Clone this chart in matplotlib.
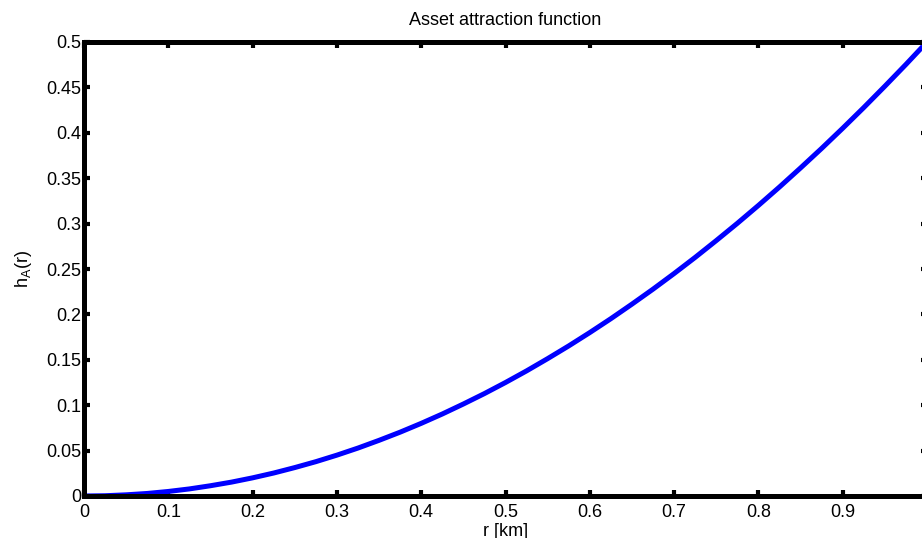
import matplotlib
matplotlib.use("Agg")
import matplotlib.pyplot as plt
import numpy as np

plt.rcParams['font.family'] = ['Liberation Sans', 'DejaVu Sans']

# values
r_km = [0, 0.025, 0.05, 0.075, 0.1, 0.125, 0.15, 0.175, 0.2, 0.225, 0.25,
        0.275, 0.3, 0.325, 0.35, 0.375, 0.4, 0.425, 0.45, 0.475, 0.5,
        0.525, 0.55, 0.575, 0.6, 0.625, 0.65, 0.675, 0.7, 0.725, 0.75,
        0.775, 0.8, 0.825, 0.85, 0.875, 0.9, 0.925, 0.95, 0.975, 1.0]
h_A = [0, 0.0003, 0.0013, 0.0028, 0.005, 0.0078, 0.0113, 0.0153, 0.02, 0.0253, 0.0313,
       0.0378, 0.045, 0.0528, 0.0613, 0.0703, 0.08, 0.0903, 0.1013, 0.1128, 0.125,
       0.1378, 0.1513, 0.1653, 0.18, 0.1953, 0.2113, 0.2278, 0.245, 0.2628, 0.2813,
       0.3003, 0.32, 0.3403, 0.3613, 0.3828, 0.405, 0.4278, 0.4513, 0.4753, 0.5]

# the "1" tick falls outside the cropped picture
x_ticks = [0, 0.1, 0.2, 0.3, 0.4, 0.5, 0.6, 0.7, 0.8, 0.9]
x_labels = ['0', '0.1', '0.2', '0.3', '0.4', '0.5', '0.6', '0.7', '0.8', '0.9']
y_ticks = [0, 0.05, 0.1, 0.15, 0.2, 0.25, 0.3, 0.35, 0.4, 0.45, 0.5]
y_labels = ['0', '0.05', '0.1', '0.15', '0.2', '0.25', '0.3', '0.35', '0.4', '0.45', '0.5']

W, H = 922, 538
fig = plt.figure(figsize=(W / 100, H / 100), dpi=100)
# axes run past the right edge of the picture (the reference is cropped)
ax = fig.add_axes([84 / W, (H - 496) / H, (927 - 84) / W, (496 - 42) / H])

ax.plot(r_km, h_A, color='#0000ff', lw=3.6, solid_capstyle='butt')

ax.set_xlim(0, 1)
ax.set_ylim(0, 0.5)
ax.set_xticks(x_ticks)
ax.set_xticklabels(x_labels)
ax.set_yticks(y_ticks)
ax.set_yticklabels(y_labels)

fs = 13
for s in ax.spines.values():
    s.set_linewidth(3.6)
ax.tick_params(direction='in', length=4.5, width=3, top=True, right=True,
               labelsize=fs, pad=2)
ax.tick_params(axis='x', pad=6)

ax.set_title('Asset attraction function', fontsize=fs, pad=12)
ax.set_xlabel('r [km]', fontsize=fs, labelpad=1)
ax.set_ylabel(r'$\mathregular{h_A(r)}$', fontsize=fs, labelpad=9)

fig.savefig('out.png', dpi=100)
